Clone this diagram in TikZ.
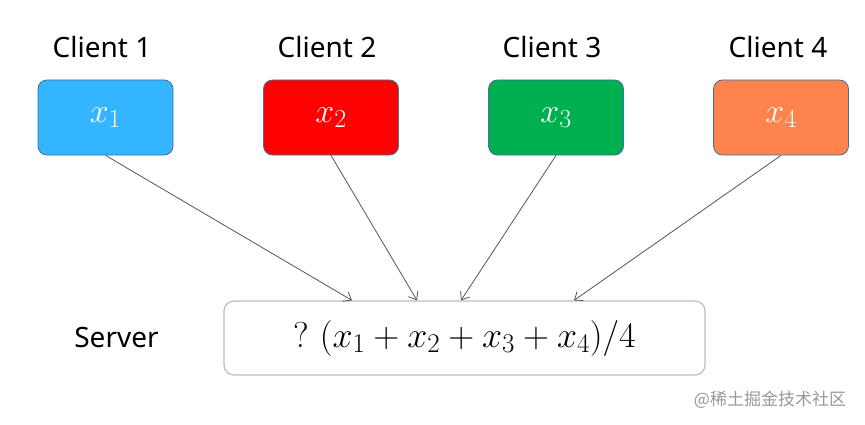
\RequirePackage{fix-cm}
\documentclass[tikz,border=0pt]{standalone}
\usepackage{fontspec}
\setsansfont{Noto Sans}
\newfontfamily\cjkfont{Noto Sans CJK SC}
\usetikzlibrary{arrows.meta}
\DeclareMathSizes{34}{34}{26}{20}
\DeclareMathSizes{36}{36}{27}{21}

\definecolor{cblue}{RGB}{51,181,255}
\definecolor{cred}{RGB}{255,0,0}
\definecolor{cgreen}{RGB}{0,176,80}
\definecolor{corange}{RGB}{255,131,76}
\definecolor{edgeblue}{RGB}{65,113,156}
\definecolor{arrowgray}{RGB}{85,85,85}
\definecolor{servergray}{RGB}{190,190,190}

\begin{document}
\begin{tikzpicture}[x=1pt, y=1pt,
    client/.style={draw=edgeblue, line width=0.8pt, rounded corners=9pt,
        minimum width=135pt, minimum height=75pt, text=white,
        font=\fontsize{34}{38}\selectfont},
    clientname/.style={font=\sffamily\fontsize{28}{32}\selectfont},
    feed/.style={draw=arrowgray, line width=0.8pt,
        -{Straight Barb[length=7pt, width=11pt]}}]
    \useasboundingbox[fill=white] (0,0) rectangle (865,424);

    % 客户端
    \node[clientname] (n1) at (102,377) {Client 1};
    \node[clientname] (n2) at (327,377) {Client 2};
    \node[clientname] (n3) at (552,377) {Client 3};
    \node[clientname] (n4) at (778,377) {Client 4};

    \node[client, fill=cblue] (c1) at (105.5,306.5) {$x_1$};
    \node[client, fill=cred] (c2) at (331,306.5) {$x_2$};
    \node[client, fill=cgreen] (c3) at (556,306.5) {$x_3$};
    \node[client, fill=corange] (c4) at (781,306.5) {$x_4$};

    % 服务器
    \node[clientname] (sname) at (116.5,86) {Server};
    \node[draw=servergray, line width=1.2pt, rounded corners=10pt,
        minimum width=481pt, minimum height=74pt,
        font=\fontsize{36}{40}\selectfont] (server) at (464.5,86)
        {?\ $(x_1+x_2+x_3+x_4)/4$};

    % 连线
    \draw[feed] (c1.south) -- ([xshift=-112.5pt]server.north);
    \draw[feed] (c2.south) -- ([xshift=-47.5pt]server.north);
    \draw[feed] (c3.south) -- ([xshift=-3.5pt]server.north);
    \draw[feed] (c4.south) -- ([xshift=109.5pt]server.north);

    % 水印
    \node[text=black!40, font=\cjkfont\fontsize{17}{20}\selectfont] (mark) at (770,24)
        {@稀土掘金技术社区};
\end{tikzpicture}
\end{document}
